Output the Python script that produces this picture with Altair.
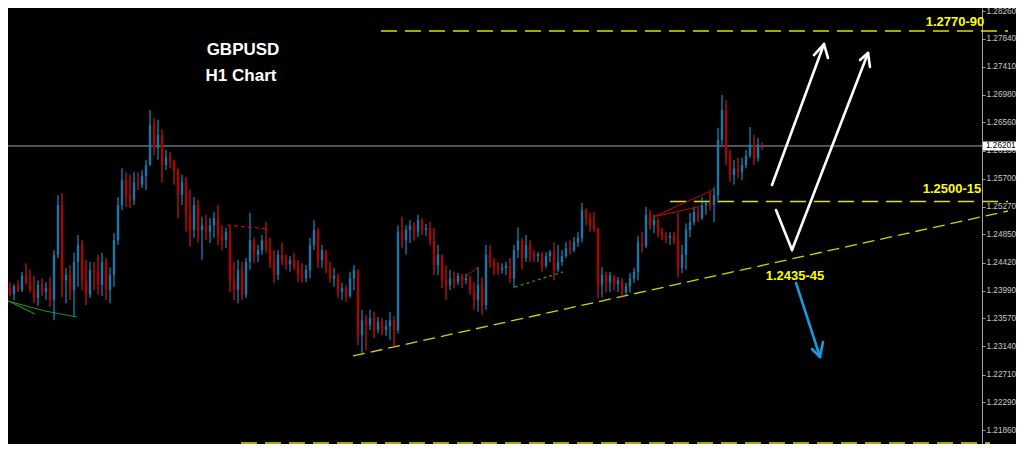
import altair as alt
import pandas as pd

# ---------------- data (prices in pips, 1 pip = 0.0001) ----------------
first_open_pips = 12400
close_pips = [
    12397, 12403, 12394, 12406, 12400, 12422, 12412, 12400, 12388, 12408,
    12397, 12403, 12385, 12454, 12530, 12415, 12423, 12400, 12443, 12469,
    12415, 12393, 12431, 12428, 12408, 12443, 12400, 12423, 12476, 12530,
    12568, 12545, 12538, 12564, 12561, 12574, 12591, 12652, 12617, 12637,
    12591, 12602, 12596, 12583, 12545, 12565, 12515, 12492, 12530, 12492,
    12499, 12489, 12499, 12510, 12484, 12476, 12489, 12415, 12400, 12431,
    12393, 12443, 12476, 12454, 12461, 12476, 12464, 12443, 12423, 12454,
    12443, 12440, 12446, 12434, 12423, 12418, 12431, 12469, 12492, 12446,
    12461, 12434, 12418, 12422, 12397, 12403, 12391, 12418, 12431, 12331,
    12354, 12347, 12357, 12339, 12351, 12339, 12345, 12354, 12339, 12489,
    12476, 12492, 12499, 12489, 12507, 12492, 12495, 12476, 12438, 12454,
    12415, 12408, 12418, 12412, 12422, 12415, 12418, 12400, 12385, 12408,
    12377, 12454, 12443, 12437, 12431, 12434, 12437, 12418, 12461, 12476,
    12449, 12469, 12455, 12452, 12455, 12437, 12452, 12458, 12431, 12443,
    12452, 12464, 12461, 12473, 12480, 12522, 12510, 12499, 12495, 12408,
    12423, 12412, 12422, 12409, 12415, 12397, 12406, 12418, 12428, 12473,
    12467, 12515, 12499, 12507, 12489, 12483, 12480, 12483, 12476, 12434,
    12454, 12492, 12504, 12519, 12510, 12530, 12533, 12530, 12545, 12629,
    12675, 12606, 12576, 12586, 12580, 12591, 12605, 12622, 12602, 12622,
    12620,
]
high_pips = [
    12408, 12411, 12412, 12409, 12415, 12428, 12441, 12431, 12422, 12415,
    12418, 12412, 12420, 12461, 12545, 12548, 12434, 12438, 12457, 12484,
    12476, 12446, 12443, 12443, 12454, 12457, 12449, 12435, 12487, 12542,
    12586, 12580, 12576, 12580, 12580, 12583, 12599, 12675, 12663, 12660,
    12645, 12614, 12611, 12599, 12586, 12576, 12573, 12553, 12542, 12538,
    12512, 12515, 12510, 12519, 12530, 12499, 12495, 12499, 12443, 12446,
    12443, 12449, 12518, 12480, 12469, 12484, 12504, 12480, 12461, 12461,
    12473, 12454, 12452, 12457, 12446, 12441, 12438, 12480, 12507, 12495,
    12469, 12461, 12443, 12434, 12425, 12411, 12408, 12428, 12438, 12431,
    12370, 12362, 12370, 12367, 12359, 12357, 12354, 12367, 12360, 12499,
    12512, 12499, 12507, 12504, 12515, 12510, 12501, 12504, 12495, 12469,
    12454, 12438, 12431, 12428, 12426, 12425, 12425, 12422, 12412, 12435,
    12420, 12469, 12469, 12449, 12443, 12441, 12443, 12449, 12469, 12496,
    12480, 12484, 12476, 12461, 12458, 12458, 12458, 12461, 12473, 12469,
    12461, 12473, 12476, 12481, 12489, 12533, 12525, 12518, 12519, 12495,
    12435, 12428, 12428, 12423, 12420, 12418, 12411, 12426, 12434, 12483,
    12489, 12527, 12522, 12515, 12510, 12495, 12489, 12489, 12489, 12518,
    12469, 12502, 12518, 12527, 12525, 12542, 12538, 12550, 12557, 12648,
    12698, 12690, 12614, 12599, 12602, 12602, 12614, 12649, 12637, 12632,
    12626,
]
low_pips = [
    12385, 12388, 12391, 12385, 12397, 12397, 12408, 12396, 12380, 12376,
    12391, 12385, 12374, 12354, 12449, 12389, 12380, 12385, 12359, 12405,
    12400, 12377, 12388, 12400, 12393, 12391, 12385, 12380, 12405, 12469,
    12522, 12527, 12525, 12530, 12553, 12556, 12553, 12590, 12606, 12599,
    12564, 12583, 12586, 12561, 12510, 12530, 12489, 12466, 12480, 12473,
    12446, 12476, 12472, 12480, 12469, 12461, 12464, 12397, 12385, 12380,
    12385, 12388, 12431, 12441, 12443, 12454, 12457, 12434, 12411, 12415,
    12438, 12431, 12428, 12431, 12412, 12411, 12412, 12418, 12461, 12434,
    12434, 12426, 12411, 12405, 12388, 12385, 12382, 12388, 12400, 12316,
    12304, 12308, 12339, 12327, 12334, 12331, 12330, 12324, 12312, 12334,
    12464, 12454, 12472, 12476, 12481, 12484, 12483, 12469, 12423, 12423,
    12403, 12385, 12400, 12403, 12408, 12403, 12409, 12393, 12370, 12367,
    12362, 12370, 12434, 12423, 12423, 12425, 12423, 12411, 12403, 12449,
    12431, 12443, 12443, 12443, 12443, 12428, 12434, 12443, 12415, 12428,
    12437, 12449, 12454, 12458, 12466, 12473, 12499, 12489, 12489, 12388,
    12389, 12396, 12397, 12400, 12397, 12389, 12393, 12396, 12411, 12415,
    12457, 12464, 12492, 12487, 12481, 12476, 12472, 12469, 12470, 12420,
    12426, 12431, 12481, 12499, 12504, 12507, 12515, 12522, 12504, 12533,
    12622, 12591, 12565, 12561, 12571, 12568, 12586, 12602, 12591, 12596,
    12614,
]

tick_values = [1.28260, 1.27840, 1.27410, 1.26980, 1.26560, 1.26130, 1.25700,
               1.25270, 1.24850, 1.24420, 1.23990, 1.23570, 1.23140, 1.22710,
               1.22290, 1.21860]
current_price = 1.26201

# horizontal levels (bar index start, bar index end, price)
levels = [(94.75, 251.5, 1.27957), (167.0, 251.5, 1.25353), (59.75, 247.0, 1.21665)]
# rising trend line (bar index, price)
trend = [(87.75, 1.22994), (251.5, 1.25208)]
# arrows (bar index, price)
white_arrow_1 = [(192.5, 1.25605), (205.5, 1.27758)]
white_arrow_1_head = [(203.0, 1.27590), (205.5, 1.27758), (206.5, 1.27544)]
white_arrow_2 = [(193.5, 1.25223), (197.5, 1.24612), (216.5, 1.27621)]
white_arrow_2_head = [(214.5, 1.27514), (216.5, 1.27621), (217.0, 1.27407)]
blue_arrow = [(198.5, 1.24109), (204.5, 1.22979)]
blue_arrow_head = [(202.5, 1.23101), (204.5, 1.22979), (205.25, 1.23208)]
red_lines = [[(162.75, 1.25116), (177.75, 1.25529)],
             [(162.75, 1.25116), (175.0, 1.25284)],
             [(115.75, 1.24200), (119.0, 1.24353)]]
red_dashed = [[(56.25, 1.24994), (66.5, 1.24933)]]
green_lines = [[(-0.5, 1.23895), (8.25, 1.23635)],
               [(-0.5, 1.23864), (10.75, 1.23681)],
               [(10.75, 1.23681), (18.75, 1.23589)]]
green_dotted = [[(128.25, 1.24048), (140.25, 1.24277)]]

titles = [("GBPUSD", 60.25, 1.27666), ("H1 Chart", 59.75, 1.27270)]
level_labels = [("1.2770-90", 238.25, 1.28094), ("1.2500-15", 237.5, 1.25544),
                ("1.2435-45", 198.25, 1.24223)]

# ---------------- build tables ----------------
UP_WICK, UP_BODY = "#1ea8ea", "#1a78a8"
DN_WICK, DN_BODY = "#ff1a1a", "#b00000"

rows = []
prev = first_open_pips
for i, (c, h, l) in enumerate(zip(close_pips, high_pips, low_pips)):
    up = c >= prev
    rows.append({
        "i": i, "open": prev / 1e4, "close": c / 1e4, "high": h / 1e4, "low": l / 1e4,
        "wc": UP_WICK if up else DN_WICK, "bc": UP_BODY if up else DN_BODY,
    })
    prev = c
candles = pd.DataFrame(rows)


def segs(points_list):
    out = []
    for pts in points_list:
        for (a, b) in zip(pts[:-1], pts[1:]):
            out.append({"x": a[0], "y": a[1], "x2": b[0], "y2": b[1]})
    return pd.DataFrame(out)


X_END = 245.0
XS = alt.Scale(domain=[1.5, X_END], nice=False, zero=False)
YS = alt.Scale(domain=[1.21650, 1.28308], nice=False, zero=False)
YAXIS = alt.Axis(orient="right", values=tick_values, format=".5f", grid=False, title=None,
                 labelColor="#c8c8c8", labelFont="Liberation Sans", labelFontSize=8.2,
                 tickColor="#a0a0a0", domainColor="#a0a0a0", tickSize=3, labelPadding=1,
                 labelFlush=False, labelOverlap=False)


def X(f):
    return alt.X(f, type="quantitative", scale=XS, axis=None)


def Y(f):
    return alt.Y(f, type="quantitative", scale=YS, axis=YAXIS)


def seg_layer(df, **mark):
    return alt.Chart(df).mark_rule(**mark).encode(
        x=X("x"), y=Y("y"), x2="x2", y2="y2")


price_line = seg_layer(segs([[(-0.5, current_price), (X_END, current_price)]]),
                       color="#9aa6b6", strokeWidth=1)

wicks = alt.Chart(candles).mark_rule(strokeWidth=1).encode(
    x=X("i"), y=Y("low"), y2="high", color=alt.Color("wc:N", scale=None))
bodies = alt.Chart(candles).mark_rule(strokeWidth=2.4).encode(
    x=X("i"), y=Y("open"), y2="close", color=alt.Color("bc:N", scale=None))

level_df = pd.DataFrame([{"x": a, "x2": b, "y": p, "y2": p} for a, b, p in levels])
level_layer = alt.Chart(level_df).mark_rule(color="#e0e000", strokeWidth=1.3,
                                            strokeDash=[16, 8]).encode(
    x=X("x"), x2="x2", y=Y("y"), y2="y2")
trend_layer = seg_layer(segs([trend]), color="#d4d400", strokeWidth=1.3, strokeDash=[12, 6])

white_layer = seg_layer(segs([white_arrow_1, white_arrow_1_head, white_arrow_2, white_arrow_2_head]),
                        color="#ffffff", strokeWidth=2.6, strokeCap="round")
blue_layer = seg_layer(segs([blue_arrow, blue_arrow_head]),
                       color="#1a9be0", strokeWidth=2.6, strokeCap="round")
red_layer = seg_layer(segs(red_lines), color="#d00000", strokeWidth=1)
red_dash_layer = seg_layer(segs(red_dashed), color="#d00000", strokeWidth=1.2, strokeDash=[4, 3])
green_layer = seg_layer(segs(green_lines), color="#1f8c1f", strokeWidth=1.2)
green_dot_layer = seg_layer(segs(green_dotted), color="#1f8c1f", strokeWidth=1.4, strokeDash=[3, 3])

title_df = pd.DataFrame([{"t": t, "x": x, "y": y} for t, x, y in titles])
title_layer = alt.Chart(title_df).mark_text(color="white", font="Liberation Sans", fontSize=17,
                                            fontWeight="bold", align="center", baseline="middle").encode(
    x=X("x"), y=Y("y"), text="t:N")

lab_df = pd.DataFrame([{"t": t, "x": x, "y": y} for t, x, y in level_labels])
lab_layer = alt.Chart(lab_df).mark_text(color="#ffff00", font="Liberation Sans", fontSize=13,
                                        fontWeight="bold", align="center", baseline="middle").encode(
    x=X("x"), y=Y("y"), text="t:N")

box_df = pd.DataFrame([{"x": 245.25, "x2": 253.5, "y": current_price - 0.0007,
                        "y2": current_price + 0.0007}])
box_layer = alt.Chart(box_df).mark_rect(color="white").encode(
    x=X("x"), x2="x2", y=Y("y"), y2="y2")
box_text = alt.Chart(pd.DataFrame([{"t": f"{current_price:.5f}", "x": 246.0, "y": current_price}])).mark_text(
    color="black", font="Liberation Sans", fontSize=8.2, align="left", baseline="middle").encode(
    x=X("x"), y=Y("y"), text="t:N")

chart = alt.layer(
    price_line, level_layer, trend_layer, green_layer, green_dot_layer,
    wicks, bodies, red_layer, red_dash_layer,
    white_layer, blue_layer, title_layer, lab_layer, box_layer, box_text,
).properties(
    width=974, height=436,
    autosize=alt.AutoSizeParams(type="none"),
    padding={"left": 0, "top": 0, "right": 34, "bottom": 0},
    background="black",
).configure_view(stroke=None, fill="black")

chart.save("out.html", embed_options={"renderer": "svg", "actions": False})
